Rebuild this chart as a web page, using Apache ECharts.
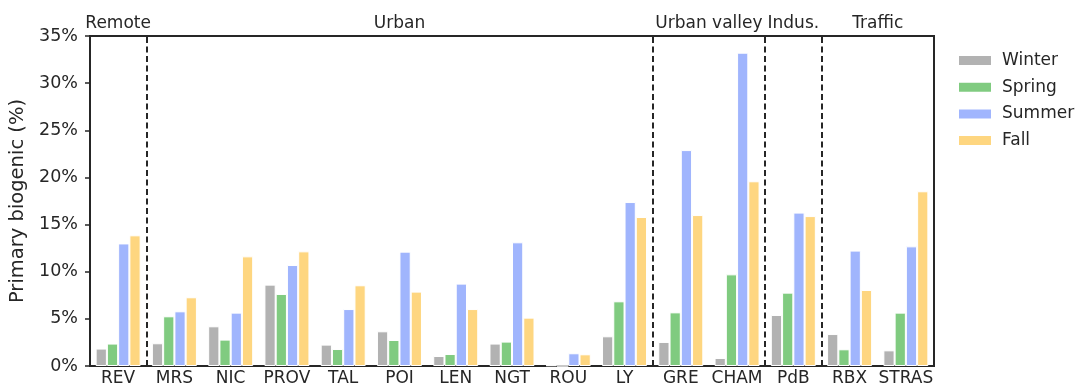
<!DOCTYPE html>
<html><head><meta charset="utf-8">
<script src="https://cdn.jsdelivr.net/npm/echarts@6/dist/echarts.min.js"></script>
<style>html,body{margin:0;padding:0;background:#fff}#c{width:1079px;height:386px}</style>
</head><body><div id="c"></div>
<script>
const categories = ['REV','MRS','NIC','PROV','TAL','POI','LEN','NGT','ROU','LY','GRE','CHAM','PdB','RBX','STRAS'];
const winter = [1.85, 2.41, 4.21, 8.63, 2.27, 3.68, 1.06, 2.38, 0.07, 3.15, 2.55, 0.85, 5.41, 3.39, 1.66];
const spring = [2.38, 5.27, 2.80, 7.64, 1.80, 2.76, 1.27, 2.59, 0.00, 6.86, 5.69, 9.72, 7.78, 1.77, 5.66];
const summer = [13.0, 5.80, 5.66, 10.71, 6.04, 12.13, 8.74, 13.12, 1.35, 17.39, 22.9, 33.23, 16.27, 12.24, 12.69];
const fall   = [13.86, 7.29, 11.63, 12.16, 8.56, 7.89, 6.04, 5.13, 1.24, 15.8, 16.01, 19.59, 15.9, 8.06, 18.53];
const seasons = ['Winter','Spring','Summer','Fall'];
const yTicks = [0, 5, 10, 15, 20, 25, 30, 35];
const groups = [
  {name:'Remote', from:'REV', to:'REV'},
  {name:'Urban', from:'MRS', to:'LY'},
  {name:'Urban valley', from:'GRE', to:'CHAM'},
  {name:'Indus.', from:'PdB', to:'PdB'},
  {name:'Traffic', from:'RBX', to:'STRAS'}
];
const separators = [1, 10, 12, 13];

const colors = ['#b2b2b2', '#80cb80', '#a0b5fd', '#fed680'];
const FONT = 'DejaVu Sans';
const TXT = '#262626';
const chart = echarts.init(document.getElementById('c'), null, {renderer:'canvas'});
const values = [winter, spring, summer, fall];
const series = seasons.map((s, k) => ({
  name: s, type: 'bar', xAxisIndex: 0, yAxisIndex: 0,
  data: values[k], barWidth: '20%', barGap: '0%',
  itemStyle: {color: colors[k], borderColor: '#ffffff', borderWidth: 1},
  emphasis: {disabled: true}
}));
series.push({
  type: 'line', xAxisIndex: 1, yAxisIndex: 0, data: [], silent: true,
  markLine: {
    symbol: 'none', silent: true, label: {show: false},
    lineStyle: {color: TXT, width: 2, type: [6, 3.5]},
    data: separators.map(v => ({xAxis: v}))
  }
});
chart.setOption({
  animation: false,
  color: colors,
  textStyle: {fontFamily: FONT, color: TXT},
  grid: {left: 90, right: 145, top: 36, bottom: 20, show: true, borderColor: TXT, borderWidth: 2, backgroundColor: 'transparent', containLabel: false, outerBoundsMode: 'none'},
  legend: {
    orient: 'vertical', left: 952, top: 47, itemWidth: 34, itemHeight: 11, itemGap: 9.7,
    icon: 'rect', data: seasons,
    textStyle: {fontFamily: FONT, fontSize: 17, color: TXT, padding: [0, 0, 0, 5]}
  },
  xAxis: [{
    type: 'category', data: categories,
    axisLine: {show: true, lineStyle: {color: TXT, width: 2}},
    axisTick: {show: false},
    axisLabel: {fontFamily: FONT, fontSize: 17, color: TXT, margin: 4.5, interval: 0}
  }, {
    type: 'value', min: 0, max: 15, show: false
  }],
  yAxis: {
    type: 'value', min: yTicks[0], max: yTicks[yTicks.length-1], interval: 5,
    name: 'Primary biogenic (%)', nameLocation: 'middle', nameGap: 57,
    nameTextStyle: {fontFamily: FONT, fontSize: 19.5, color: TXT},
    axisLine: {show: true, lineStyle: {color: TXT, width: 2}},
    axisTick: {show: true, length: 5, lineStyle: {color: TXT, width: 1.5}},
    axisLabel: {fontFamily: FONT, fontSize: 17.5, color: TXT, margin: 12, formatter: v => v + '%'},
    splitLine: {show: false}
  },
  series: series
});
const gx = name => chart.convertToPixel({xAxisIndex: 0}, name);
chart.setOption({
  graphic: groups.map(g => ({
    type: 'text', silent: true,
    x: (gx(g.from) + gx(g.to)) / 2, y: 24,
    style: {text: g.name, fontFamily: FONT, fontSize: 17, fill: TXT, align: 'center', verticalAlign: 'middle'}
  }))
});
</script></body></html>
